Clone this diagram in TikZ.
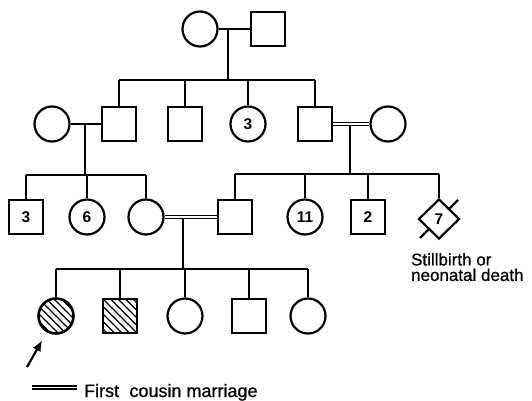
\documentclass[tikz,border=0pt]{standalone}
\usepackage{fontspec}
\setmainfont{Liberation Sans}
\newfontfamily\lblfont[FakeBold=0.8]{Liberation Sans}
\usetikzlibrary{shapes.geometric,arrows.meta}
\begin{document}
\begin{tikzpicture}[x=1pt,y=-1pt,line width=2.2pt,
  male/.style={draw,rectangle,minimum size=34pt,inner sep=0pt},
  female/.style={draw,circle,minimum size=35pt,inner sep=0pt},
  num/.style={font=\bfseries\fontsize{15.5}{15.5}\selectfont},
  hatched/.style={line width=2.6pt,path picture={
    \foreach \i in {-52.5,-45,...,52.5}{
      \draw[line width=1.4pt,shift={(path picture bounding box.center)}] (\i-30,-30) -- (\i+30,30);}}},
  cousin/.style={double,double distance=1.6pt,line width=1.5pt}]
\useasboundingbox (0,0) rectangle (532,401);

% Generation I
\node[female] (I1) at (200,29) {};
\node[male] (I2) at (268,29) {};
\draw (I1) -- (I2);
\coordinate (m1) at (228,29);
\coordinate (s1) at (228,80);
\draw (m1) -- (s1);

% Generation II
\node[female] (II0) at (52,124) {};
\node[male] (II1) at (119,124) {};
\node[male] (II2) at (185,124) {};
\node[female,num] (II3) at (248,124) {3};
\node[male] (II4) at (315,124) {};
\node[female] (II5) at (388,124) {};
\draw (II1.north |- s1) -- (II4.north |- s1);
\foreach \c in {II1,II2,II3,II4} \draw (\c.north) -- (\c.north |- s1);
\draw (II0) -- (II1);
\draw[cousin] (II4) -- (II5);
\coordinate (m2) at (85,124);
\coordinate (s2) at (85,175);
\draw (m2) -- (s2);
\coordinate (m3) at (350,125.5);
\coordinate (s3) at (350,174);
\draw (m3) -- (s3);

% Generation III
\node[male,num] (III1) at (26,217) {3};
\node[female,num] (III2) at (87,217) {6};
\node[female] (III3) at (146,217) {};
\node[male] (III4) at (235,217) {};
\node[female,num] (III5) at (305,217) {11};
\node[male,num] (III6) at (368,217) {2};
\coordinate (c7) at (439,219);
\draw ([shift={(-19,19)}]c7) -- ([shift={(19,-19)}]c7);
\node[diamond,aspect=1,draw,fill=white,minimum width=41pt,minimum height=40pt,inner sep=0pt,num] (III7) at (c7) {7};
\draw (III1.north |- s2) -- (III3.north |- s2);
\foreach \c in {III1,III2,III3} \draw (\c.north) -- (\c.north |- s2);
\draw (III4.north |- s3) -- (III7.north |- s3);
\foreach \c in {III4,III5,III6,III7} \draw (\c.north) -- (\c.north |- s3);
\draw[cousin] (III3) -- (III4);
\coordinate (m4) at (183,218);
\coordinate (s4) at (183,269);
\draw (m4) -- (s4);
\node[anchor=north west,inner sep=0pt,align=left,font=\lblfont\fontsize{17}{15.5}\selectfont] (sb) at (410,252) {Stillbirth or\\neonatal death};

% Generation IV
\node[female,hatched] (IV1) at (56,316) {};
\node[male,hatched] (IV2) at (120,316) {};
\node[female] (IV3) at (185,316) {};
\node[male] (IV4) at (249,316) {};
\node[female] (IV5) at (308,316) {};
\draw (IV1.north |- s4) -- (IV5.north |- s4);
\foreach \c in {IV1,IV2,IV3,IV4,IV5} \draw (\c.north) -- (\c.north |- s4);

% Proband arrow
\coordinate (a0) at (27,367);
\draw[-{Latex[length=11pt,width=9pt]},shorten >=9pt] (a0) -- (IV1);

% Legend
\coordinate (l0) at (32,387.5);
\coordinate (l1) at (77,387.5);
\draw[cousin] (l0) -- (l1);
\node[anchor=base west,inner sep=0pt,font=\lblfont\fontsize{18}{18}\selectfont] (leg) at (83,397) {First\hspace{0.3em} cousin marriage};
\end{tikzpicture}
\end{document}
